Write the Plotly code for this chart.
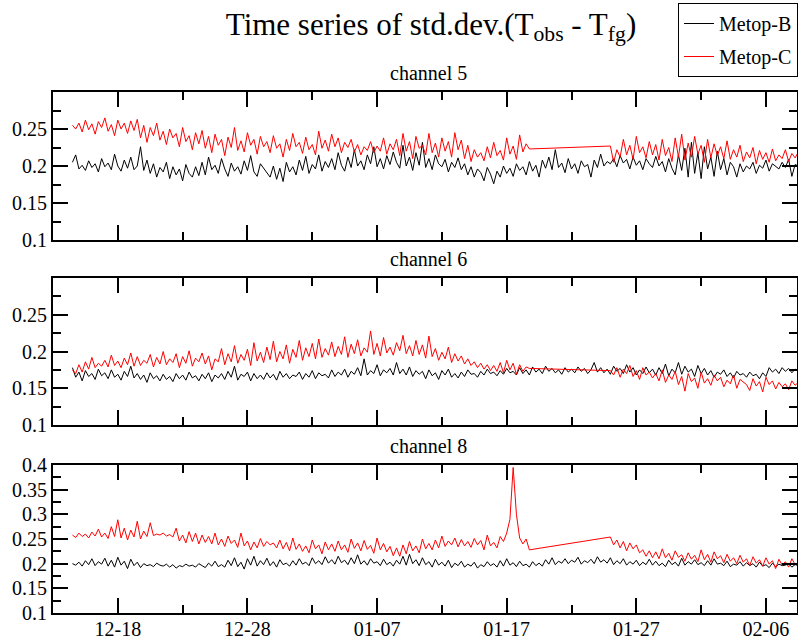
import pandas as pd
import plotly.graph_objects as go

# ---------------- data ----------------
start_time = "2018-12-14 12:00"
n_samples = 225
sample_freq = "6h"

x_tick_dates = ["2018-12-18", "2018-12-28", "2019-01-07", "2019-01-17", "2019-01-27", "2019-02-06"]
x_tick_text = ["12-18", "12-28", "01-07", "01-17", "01-27", "02-06"]

series_names = ["Metop-B", "Metop-C"]
channel_names = ["channel 5", "channel 6", "channel 8"]

N = None

ch5_metop_b = [
    0.205, 0.215, 0.196, 0.201, 0.194, 0.207, 0.198, 0.203, 0.192, 0.210, 0.199, 0.204, 0.195, 0.216, 0.200, 0.193, 0.208, 0.197, 0.212, 0.195,
    0.200, 0.226, 0.194, 0.208, 0.190, 0.203, 0.185, 0.198, 0.192, 0.205, 0.183, 0.199, 0.188, 0.196, 0.180, 0.202, 0.190, 0.185, 0.199, 0.187,
    0.205, 0.188, 0.212, 0.195, 0.201, 0.190, 0.210, 0.196, 0.186, 0.204, 0.193, 0.199, 0.189, 0.207, 0.194, 0.214, 0.192, 0.186, 0.203, 0.197,
    0.190, 0.185, 0.200, 0.182, 0.197, 0.179, 0.205, 0.192, 0.199, 0.188, 0.208, 0.194, 0.213, 0.190, 0.202, 0.196, 0.215, 0.193, 0.206, 0.198,
    0.210, 0.195, 0.218, 0.201, 0.193, 0.212, 0.198, 0.222, 0.200, 0.207, 0.195, 0.215, 0.203, 0.226, 0.199, 0.210, 0.196, 0.214, 0.202, 0.219,
    0.205, 0.197, 0.228, 0.200, 0.212, 0.194, 0.218, 0.201, 0.232, 0.198, 0.210, 0.195, 0.215, 0.203, 0.199, 0.209, 0.192, 0.205, 0.198, 0.211,
    0.195, 0.203, 0.188, 0.199, 0.185, 0.196, 0.191, 0.180, 0.198, 0.189, 0.176, 0.193, 0.185, 0.200, 0.190, 0.197, 0.186, 0.203, 0.194, 0.199,
    0.188, 0.206, 0.193, 0.201, 0.185, 0.208, 0.197, 0.212, 0.195, 0.222, 0.198, 0.204, 0.191, 0.210, 0.196, 0.203, 0.190, 0.207, 0.199, 0.202,
    0.185, 0.208, 0.198, 0.216, 0.200, 0.206, 0.203, 0.210, 0.199, 0.214, 0.204, 0.209, 0.196, 0.212, 0.201, 0.207, 0.195, 0.210, 0.203, 0.198,
    0.213, 0.200, 0.206, 0.192, 0.210, 0.197, 0.188, 0.215, 0.194, 0.224, 0.185, 0.232, 0.190, 0.218, 0.183, 0.226, 0.196, 0.212, 0.186, 0.220,
    0.195, 0.210, 0.188, 0.205, 0.199, 0.185, 0.203, 0.192, 0.200, 0.196, 0.205, 0.190, 0.201, 0.197, 0.208, 0.193, 0.203, 0.199, 0.196, 0.205,
    0.198, 0.209, 0.186, 0.202, 0.200,
]

ch5_metop_c = [
    0.255, 0.250, 0.258, 0.246, 0.262, 0.249, 0.257, 0.243, 0.260, 0.252, 0.265, 0.247, 0.256, 0.241, 0.262, 0.250, 0.258, 0.244, 0.261, 0.248,
    0.263, 0.238, 0.255, 0.232, 0.252, 0.241, 0.258, 0.235, 0.247, 0.229, 0.250, 0.238, 0.244, 0.226, 0.252, 0.233, 0.241, 0.222, 0.245, 0.230,
    0.248, 0.224, 0.240, 0.218, 0.243, 0.228, 0.236, 0.214, 0.239, 0.225, 0.252, 0.221, 0.234, 0.219, 0.245, 0.228, 0.236, 0.216, 0.240, 0.226,
    0.233, 0.218, 0.241, 0.224, 0.230, 0.212, 0.236, 0.221, 0.244, 0.226, 0.232, 0.217, 0.239, 0.222, 0.229, 0.215, 0.247, 0.224, 0.235, 0.220,
    0.243, 0.226, 0.238, 0.218, 0.232, 0.225, 0.236, 0.219, 0.229, 0.215, 0.226, 0.221, 0.233, 0.218, 0.227, 0.220, 0.238, 0.216, 0.230, 0.222,
    0.236, 0.214, 0.244, 0.220, 0.233, 0.210, 0.240, 0.224, 0.228, 0.215, 0.244, 0.218, 0.231, 0.212, 0.238, 0.220, 0.233, 0.212, 0.245, 0.222,
    0.235, 0.210, 0.228, 0.206, 0.222, 0.212, 0.218, 0.207, 0.226, 0.211, 0.232, 0.214, 0.221, 0.208, 0.238, 0.216, 0.227, 0.209, 0.242, 0.219,
    0.230, 0.223, N, N, N, N, N, N, N, N, N, N, N, N, N, N, N, N, N, N,
    N, N, N, N, N, N, 0.227, 0.205, 0.222, 0.212, 0.236, 0.215, 0.228, 0.209, 0.240, 0.218, 0.226, 0.211, 0.233, 0.215,
    0.229, 0.208, 0.236, 0.214, 0.225, 0.206, 0.238, 0.212, 0.243, 0.208, 0.231, 0.212, 0.240, 0.216, 0.228, 0.205, 0.236, 0.211, 0.230, 0.214,
    0.226, 0.210, 0.234, 0.209, 0.222, 0.212, 0.228, 0.206, 0.219, 0.211, 0.225, 0.203, 0.221, 0.209, 0.218, 0.205, 0.223, 0.207, 0.215, 0.210,
    0.222, 0.206, 0.217, 0.211, 0.219,
]

ch6_metop_b = [
    0.178, 0.165, 0.172, 0.160, 0.174, 0.166, 0.170, 0.162, 0.176, 0.167, 0.171, 0.163, 0.175, 0.165, 0.169, 0.161, 0.173, 0.166, 0.180, 0.164,
    0.170, 0.162, 0.168, 0.158, 0.171, 0.163, 0.167, 0.160, 0.169, 0.162, 0.166, 0.159, 0.170, 0.163, 0.168, 0.161, 0.172, 0.164, 0.167, 0.160,
    0.169, 0.163, 0.171, 0.159, 0.168, 0.164, 0.170, 0.162, 0.173, 0.165, 0.180, 0.161, 0.169, 0.166, 0.172, 0.160, 0.170, 0.163, 0.168, 0.162,
    0.171, 0.164, 0.169, 0.161, 0.173, 0.165, 0.170, 0.163, 0.168, 0.166, 0.172, 0.162, 0.170, 0.165, 0.174, 0.163, 0.171, 0.167, 0.169, 0.164,
    0.175, 0.166, 0.172, 0.168, 0.176, 0.165, 0.173, 0.169, 0.178, 0.167, 0.190, 0.168, 0.174, 0.170, 0.182, 0.167, 0.175, 0.171, 0.177, 0.168,
    0.185, 0.170, 0.176, 0.168, 0.179, 0.166, 0.174, 0.169, 0.173, 0.163, 0.175, 0.167, 0.171, 0.162, 0.174, 0.168, 0.176, 0.165, 0.170, 0.164,
    0.172, 0.166, 0.175, 0.169, 0.170, 0.165, 0.173, 0.168, 0.176, 0.170, 0.172, 0.167, 0.174, 0.169, 0.177, 0.171, 0.173, 0.168, 0.178, 0.170,
    0.175, 0.168, 0.179, 0.172, 0.176, 0.170, 0.180, 0.173, 0.177, 0.171, 0.175, 0.169, 0.178, 0.172, 0.176, 0.171, 0.179, 0.173, 0.177, 0.170,
    0.175, 0.185, 0.172, 0.178, 0.171, 0.176, 0.169, 0.180, 0.173, 0.177, 0.170, 0.182, 0.172, 0.178, 0.168, 0.175, 0.170, 0.179, 0.171, 0.176,
    0.168, 0.178, 0.170, 0.183, 0.167, 0.176, 0.171, 0.185, 0.169, 0.180, 0.172, 0.176, 0.166, 0.181, 0.170, 0.177, 0.168, 0.174, 0.165, 0.172,
    0.169, 0.175, 0.166, 0.171, 0.164, 0.173, 0.168, 0.170, 0.165, 0.172, 0.167, 0.169, 0.163, 0.171, 0.166, 0.178, 0.172, 0.176, 0.170, 0.178,
    0.173, 0.177, 0.171, 0.176, 0.174,
]

ch6_metop_c = [
    0.175, 0.170, 0.182, 0.172, 0.186, 0.176, 0.192, 0.178, 0.184, 0.180, 0.188, 0.179, 0.195, 0.181, 0.187, 0.178, 0.191, 0.182, 0.198, 0.180,
    0.193, 0.181, 0.188, 0.184, 0.196, 0.179, 0.192, 0.183, 0.200, 0.182, 0.190, 0.185, 0.197, 0.178, 0.193, 0.184, 0.201, 0.180, 0.191, 0.186,
    0.198, 0.183, 0.194, 0.175, 0.190, 0.186, 0.204, 0.182, 0.197, 0.186, 0.208, 0.184, 0.196, 0.188, 0.203, 0.181, 0.212, 0.187, 0.199, 0.185,
    0.206, 0.189, 0.214, 0.186, 0.200, 0.190, 0.209, 0.184, 0.203, 0.192, 0.215, 0.188, 0.205, 0.193, 0.211, 0.190, 0.217, 0.192, 0.204, 0.195,
    0.213, 0.193, 0.207, 0.196, 0.220, 0.192, 0.210, 0.197, 0.216, 0.194, 0.205, 0.199, 0.228, 0.196, 0.211, 0.194, 0.219, 0.198, 0.206, 0.195,
    0.212, 0.201, 0.222, 0.197, 0.208, 0.194, 0.215, 0.196, 0.209, 0.191, 0.221, 0.193, 0.204, 0.188, 0.199, 0.190, 0.206, 0.185, 0.197, 0.187,
    0.194, 0.183, 0.190, 0.181, 0.186, 0.178, 0.184, 0.176, 0.182, 0.174, 0.181, 0.173, 0.185, 0.171, 0.188, 0.175, 0.184, 0.169, 0.182, 0.173,
    0.179, 0.177, N, N, N, N, N, N, N, N, N, N, N, N, N, N, N, N, N, N,
    N, N, N, N, N, N, 0.174, 0.168, 0.178, 0.165, 0.176, 0.170, 0.181, 0.166, 0.174, 0.162, 0.178, 0.168, 0.172, 0.164,
    0.170, 0.160, 0.175, 0.158, 0.168, 0.162, 0.173, 0.155, 0.166, 0.146, 0.170, 0.159, 0.164, 0.150, 0.172, 0.157, 0.163, 0.154, 0.168, 0.160,
    0.165, 0.152, 0.161, 0.156, 0.168, 0.150, 0.162, 0.158, 0.155, 0.147, 0.163, 0.153, 0.159, 0.145, 0.165, 0.155, 0.160, 0.149, 0.158, 0.152,
    0.156, 0.148, 0.160, 0.154, 0.158,
]

ch8_metop_b = [
    0.200, 0.197, 0.203, 0.195, 0.206, 0.198, 0.210, 0.196, 0.204, 0.199, 0.211, 0.195, 0.207, 0.193, 0.213, 0.197, 0.205, 0.190, 0.209, 0.196,
    0.203, 0.192, 0.200, 0.196, 0.198, 0.194, 0.201, 0.197, 0.195, 0.199, 0.193, 0.198, 0.191, 0.196, 0.194, 0.199, 0.195, 0.197, 0.193, 0.200,
    0.196, 0.192, 0.201, 0.195, 0.205, 0.194, 0.198, 0.193, 0.207, 0.196, 0.212, 0.194, 0.203, 0.189, 0.210, 0.197, 0.215, 0.195, 0.206, 0.198,
    0.211, 0.196, 0.204, 0.193, 0.208, 0.198, 0.201, 0.195, 0.206, 0.197, 0.210, 0.199, 0.203, 0.196, 0.212, 0.200, 0.206, 0.198, 0.214, 0.201,
    0.208, 0.199, 0.215, 0.202, 0.207, 0.198, 0.212, 0.200, 0.218, 0.199, 0.206, 0.197, 0.210, 0.201, 0.204, 0.196, 0.209, 0.198, 0.203, 0.195,
    0.207, 0.199, 0.215, 0.197, 0.219, 0.200, 0.208, 0.196, 0.212, 0.198, 0.204, 0.193, 0.209, 0.197, 0.203, 0.195, 0.207, 0.192, 0.201, 0.196,
    0.205, 0.193, 0.199, 0.195, 0.203, 0.191, 0.198, 0.194, 0.204, 0.196, 0.200, 0.193, 0.206, 0.195, 0.210, 0.197, 0.202, 0.194, 0.205, 0.196,
    0.199, 0.193, 0.204, 0.196, 0.201, 0.195, 0.208, 0.199, 0.212, 0.198, 0.205, 0.201, 0.210, 0.200, 0.207, 0.203, 0.213, 0.199, 0.206, 0.202,
    0.209, 0.200, 0.214, 0.203, 0.208, 0.201, 0.212, 0.198, 0.206, 0.200, 0.210, 0.197, 0.204, 0.199, 0.207, 0.196, 0.203, 0.198, 0.209, 0.197,
    0.205, 0.196, 0.201, 0.194, 0.207, 0.198, 0.203, 0.195, 0.211, 0.197, 0.204, 0.199, 0.208, 0.198, 0.202, 0.196, 0.206, 0.197, 0.210, 0.199,
    0.201, 0.196, 0.205, 0.194, 0.199, 0.197, 0.204, 0.195, 0.202, 0.196, 0.200, 0.193, 0.203, 0.195, 0.198, 0.192, 0.201, 0.194, 0.199, 0.196,
    0.197, 0.200, 0.193, 0.198, 0.196,
]

ch8_metop_c = [
    0.258, 0.253, 0.262, 0.255, 0.260, 0.252, 0.264, 0.256, 0.270, 0.254, 0.262, 0.251, 0.275, 0.255, 0.289, 0.252, 0.272, 0.248, 0.268, 0.254,
    0.286, 0.250, 0.266, 0.255, 0.283, 0.257, 0.260, 0.258, 0.262, 0.256, 0.259, 0.254, 0.272, 0.246, 0.258, 0.242, 0.265, 0.245, 0.262, 0.240,
    0.258, 0.243, 0.255, 0.240, 0.262, 0.238, 0.250, 0.235, 0.256, 0.241, 0.248, 0.233, 0.262, 0.236, 0.246, 0.228, 0.244, 0.232, 0.251, 0.235,
    0.245, 0.238, 0.242, 0.232, 0.248, 0.230, 0.243, 0.226, 0.252, 0.229, 0.240, 0.225, 0.236, 0.222, 0.248, 0.230, 0.238, 0.220, 0.244, 0.228,
    0.240, 0.225, 0.246, 0.228, 0.238, 0.223, 0.250, 0.231, 0.242, 0.226, 0.247, 0.229, 0.237, 0.221, 0.252, 0.228, 0.241, 0.224, 0.235, 0.216,
    0.232, 0.215, 0.238, 0.220, 0.245, 0.226, 0.236, 0.222, 0.250, 0.230, 0.241, 0.228, 0.248, 0.232, 0.256, 0.235, 0.246, 0.238, 0.252, 0.234,
    0.249, 0.236, 0.245, 0.233, 0.251, 0.238, 0.247, 0.228, 0.258, 0.236, 0.243, 0.232, 0.255, 0.245, 0.262, 0.290, 0.395, 0.300, 0.252, 0.240,
    0.250, 0.228, N, N, N, N, N, N, N, N, N, N, N, N, N, N, N, N, N, N,
    N, N, N, N, N, N, 0.254, 0.238, 0.248, 0.232, 0.245, 0.226, 0.242, 0.230, 0.238, 0.222, 0.228, 0.215, 0.226, 0.212,
    0.224, 0.210, 0.230, 0.212, 0.221, 0.207, 0.226, 0.213, 0.218, 0.205, 0.222, 0.209, 0.217, 0.204, 0.228, 0.208, 0.219, 0.203, 0.224, 0.210,
    0.216, 0.202, 0.219, 0.205, 0.212, 0.200, 0.217, 0.203, 0.210, 0.196, 0.214, 0.201, 0.208, 0.195, 0.212, 0.199, 0.206, 0.190, 0.209, 0.197,
    0.204, 0.193, 0.210, 0.198, 0.202,
]

y_ticks_small = [0.1, 0.15, 0.2, 0.25]
y_ticks_large = [0.1, 0.15, 0.2, 0.25, 0.3, 0.35, 0.4]

# ---------------- figure ----------------
times = pd.date_range(start=start_time, periods=n_samples, freq=sample_freq)

FONT = "Liberation Serif, Times New Roman, serif"
W, H = 798, 641
ML, MR, MT, MB = 53, 1, 92, 28
plot_h = H - MT - MB

def dom(top_px, bot_px):
    return [(H - MB - bot_px) / plot_h, (H - MB - top_px) / plot_h]

panel_px = [(92, 240), (278, 425), (465, 613)]
domains = [dom(t, b) for t, b in panel_px]
y_ranges = [[0.1, 0.3], [0.1, 0.3], [0.1, 0.4]]
y_tickvals = [y_ticks_small, y_ticks_small, y_ticks_large]

data_by_channel = [
    (ch5_metop_b, ch5_metop_c),
    (ch6_metop_b, ch6_metop_c),
    (ch8_metop_b, ch8_metop_c),
]
colors = ["#000000", "#ff0000"]

fig = go.Figure()
for k, (yb, yc) in enumerate(data_by_channel):
    ax = "" if k == 0 else str(k + 1)
    for j, ys in enumerate((yb, yc)):
        fig.add_trace(go.Scatter(
            x=times, y=ys, mode="lines",
            line=dict(color=colors[j], width=1),
            connectgaps=True,
            name=series_names[j], legendgroup=series_names[j],
            showlegend=(k == 0),
            xaxis="x" + ax, yaxis="y" + ax,
        ))

x_range = ["2018-12-13 00:00", "2019-02-08 09:30"]
day_ms = 86400000

layout = dict(
    width=W, height=H,
    margin=dict(l=ML, r=MR, t=MT, b=MB, autoexpand=False),
    paper_bgcolor="white", plot_bgcolor="white",
    font=dict(family=FONT, size=20, color="black"),
    showlegend=True,
    legend=dict(
        xref="container", yref="container",
        x=1.0, xanchor="right", y=1 - 3 / H, yanchor="top",
        bordercolor="black", borderwidth=1, bgcolor="white",
        font=dict(family=FONT, size=20),
        tracegroupgap=4, itemwidth=30,
    ),
    title=dict(
        text="Time series of std.dev.(T<sub>obs</sub> - T<sub>fg</sub>)",
        font=dict(family=FONT, size=31, color="black"),
        xref="container", yref="container",
        x=431 / W, xanchor="center", y=1 - 24 / H, yanchor="middle",
    ),
)

annotations = []
for k in range(3):
    ax = "" if k == 0 else str(k + 1)
    xa = dict(
        type="date", range=x_range, domain=[0, 1],
        anchor="y" + ax,
        showgrid=False, zeroline=False,
        showline=True, linecolor="black", linewidth=2, mirror="ticks",
        ticks="inside", ticklen=15, tickwidth=2, tickcolor="black",
        tickvals=x_tick_dates, ticktext=x_tick_text,
        showticklabels=(k == 2),
        ticklabelstandoff=-3,
        tickfont=dict(family=FONT, size=20),
        minor=dict(ticks="inside", ticklen=8, tickwidth=2, tickcolor="black",
                   tick0="2018-12-13", dtick=5 * day_ms, showgrid=False),
    )
    if k > 0:
        xa["matches"] = "x"
    ya = dict(
        range=y_ranges[k], domain=domains[k],
        anchor="x" + ax,
        showgrid=False, zeroline=False,
        showline=True, linecolor="black", linewidth=2, mirror="ticks",
        ticks="inside", ticklen=15, tickwidth=2, tickcolor="black",
        tickvals=y_tickvals[k], ticktext=[f"{v:g}" for v in y_tickvals[k]],
        tickfont=dict(family=FONT, size=20),
        minor=dict(ticks="inside", ticklen=8, tickwidth=2, tickcolor="black",
                   tick0=0.1, dtick=0.025, showgrid=False),
    )
    layout["xaxis" + ax] = xa
    layout["yaxis" + ax] = ya
    annotations.append(dict(
        text=channel_names[k], xref="paper", yref="paper",
        x=0.505, y=domains[k][1], xanchor="center", yanchor="bottom",
        yshift=6, showarrow=False,
        font=dict(family=FONT, size=20, color="black"),
    ))
layout["annotations"] = annotations

fig.update_layout(**layout)
fig.write_html("out.html")
